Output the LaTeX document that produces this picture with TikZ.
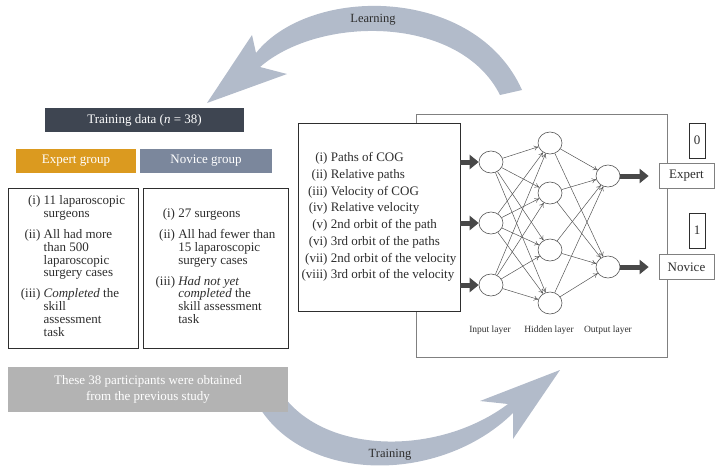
\documentclass[tikz,border=0pt]{standalone}
\usepackage{fontspec}
\setmainfont{Liberation Serif}
\usetikzlibrary{arrows.meta,shapes.geometric}
\definecolor{slate}{HTML}{3E4551}
\definecolor{expertorange}{HTML}{DB9A1F}
\definecolor{noviceblue}{HTML}{7B879C}
\definecolor{notegrey}{HTML}{B3B3B3}
\definecolor{bandblue}{HTML}{B2BBCA}
\definecolor{textgrey}{HTML}{2E2E2E}
\definecolor{nnline}{HTML}{555555}
\begin{document}
\begin{tikzpicture}[x=1pt, y=-1pt,
        header/.style={rectangle, text=white, font=\fontsize{13}{15}\selectfont, inner sep=0pt},
        listbox/.style={rectangle, draw=textgrey, line width=0.9pt, fill=white, text=textgrey, inner sep=0pt, font=\fontsize{13}{12.8}\selectfont},
        neuron/.style={ellipse, draw=nnline, line width=0.6pt, fill=white, minimum width=24pt, minimum height=22pt, inner sep=0pt},
        link/.style={-{To[length=4.5pt,width=5pt]}, draw=nnline, line width=0.5pt},
        bigarrow/.style={-{Triangle[length=9pt,width=14pt]}, draw=nnline!85!black, line width=5pt},
        classbox/.style={rectangle, draw=gray, line width=0.7pt, fill=white, text=textgrey, font=\fontsize{13}{14}\selectfont, inner sep=0pt},
        layer/.style={text=textgrey, font=\fontsize{9.5}{11}\selectfont},
        bandlabel/.style={text=textgrey, font=\fontsize{12.5}{14}\selectfont}
    ]
        \useasboundingbox (0,0) rectangle (723,475);

        \fill[bandblue] (522,90) .. controls (475,-15) and (310,-15) .. (256,53) -- (252,35) -- (207,103) -- (287,74) -- (260,67) .. controls (320,15) and (460,15) .. (500,95) -- cycle;
        \fill[bandblue] (255,400) .. controls (300,485) and (440,485) .. (513,413) -- (513,439) -- (560,370) -- (480,401) -- (508,404) .. controls (440,455) and (330,455) .. (285,398) -- cycle;
        \node[bandlabel] (learn) at (373,20) {Learning};
        \node[bandlabel] (train) at (390,455) {Training};

        \node[header, fill=slate, minimum width=199pt, minimum height=24pt] (data) at (144.5,120) {Training data (\textit{n} = 38)};
        \node[header, fill=expertorange, minimum width=120pt, minimum height=24pt] (exphead) at (76,161) {Expert group};
        \node[header, fill=noviceblue, minimum width=132pt, minimum height=24pt] (novhead) at (206,161) {Novice group};

        \node[listbox, minimum width=130pt, minimum height=160pt] (explist) at (73,268) {%
            \begin{tabular}{@{}r@{\ }l@{}}
                (i) & 11 laparoscopic\\
                    & surgeons\\[8pt]
                (ii) & All had more\\
                     & than 500\\
                     & laparoscopic\\
                     & surgery cases\\[8pt]
                (iii) & \textit{Completed} the\\
                      & skill\\
                      & assessment\\
                      & task
            \end{tabular}};
        \node[listbox, minimum width=145pt, minimum height=160pt] (novlist) at (215.5,268) {%
            \begin{tabular}{@{}r@{\ }l@{}}
                (i) & 27 surgeons\\[8pt]
                (ii) & All had fewer than\\
                     & 15 laparoscopic\\
                     & surgery cases\\[8pt]
                (iii) & \textit{Had not yet}\\
                      & \textit{completed} the\\
                      & skill assessment\\
                      & task
            \end{tabular}};

        \node[rectangle, fill=notegrey, text=white, align=center, inner sep=0pt, minimum width=280pt, minimum height=45pt, font=\fontsize{13}{16}\selectfont] (note) at (148,389.5) {These 38 participants were obtained\\from the previous study};

        \node[rectangle, draw=gray, line width=0.8pt, minimum width=251pt, minimum height=243pt, inner sep=0pt] (nnbox) at (541.5,235.5) {};
        \node[listbox, minimum width=162pt, minimum height=188pt, font=\fontsize{13}{16.7}\selectfont] (feat) at (379,217) {%
            \begin{tabular}{@{}r@{\ }l@{}}
                (i) & Paths of COG\\
                (ii) & Relative paths\\
                (iii) & Velocity of COG\\
                (iv) & Relative velocity\\
                (v) & 2nd orbit of the path\\
                (vi) & 3rd orbit of the paths\\
                (vii) & 2nd orbit of the velocity\\
                (viii) & 3rd orbit of the velocity
            \end{tabular}};

        \node[neuron] (i1) at (491,162) {};
        \node[neuron] (i2) at (491,223) {};
        \node[neuron] (i3) at (491,285) {};
        \node[neuron] (h1) at (550,143) {};
        \node[neuron] (h2) at (550,193) {};
        \node[neuron] (h3) at (550,250) {};
        \node[neuron] (h4) at (550,303) {};
        \node[neuron] (o1) at (608,176) {};
        \node[neuron] (o2) at (608,267) {};

        \foreach \i in {1,2,3}
            \foreach \h in {1,...,4}
                \draw[link] (i\i) -- (h\h);
        \foreach \h in {1,...,4}
            \foreach \o in {1,2}
                \draw[link] (h\h) -- (o\o);

        \node[layer] (inlab) at (490,330) {Input layer};
        \node[layer] (hidlab) at (549,330) {Hidden layer};
        \node[layer] (outlab) at (608,330) {Output layer};

        \node[classbox, minimum width=55pt, minimum height=25pt] (expert) at (686.5,176) {Expert};
        \node[classbox, minimum width=55pt, minimum height=25pt] (novice) at (686.5,267) {Novice};
        \node[classbox, draw=textgrey, minimum width=16pt, minimum height=35pt] (zero) at (697,140.5) {0};
        \node[classbox, draw=textgrey, minimum width=16pt, minimum height=35pt] (one) at (697,230.5) {1};

        \foreach \n in {i1,i2,i3}
            \draw[bigarrow] (feat.east |- \n) -- (\n.west);
        \draw[bigarrow] (o1.east) -- ([xshift=-10pt]expert.west);
        \draw[bigarrow] (o2.east) -- ([xshift=-10pt]novice.west);
    \end{tikzpicture}
\end{document}
